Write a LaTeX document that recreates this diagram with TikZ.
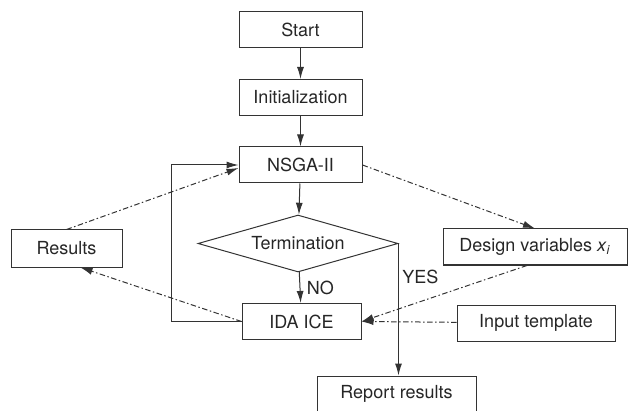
\documentclass[tikz,border=0pt]{standalone}
\usepackage{fontspec}
\setmainfont{TeX Gyre Heros}
\usetikzlibrary{shapes.geometric, arrows.meta}

\begin{document}
\begin{tikzpicture}[x=1pt, y=-1pt, line width=1pt, draw=black!80, >={Latex[length=12pt, width=7pt]},
    every node/.style={font=\fontsize{18}{20}\selectfont, text=black!85},
    flowbox/.style={draw, rectangle, minimum width=123pt, minimum height=36pt, inner sep=0pt},
    dashdot/.style={dash pattern=on 5.5pt off 2.5pt on 1.5pt off 2.5pt}]
      \useasboundingbox (0,0) rectangle (628,411);
      \node [flowbox] (start) at (300.5,29.5) {Start};
      \node [flowbox] (init) at (300.5,97.5) {Initialization};
      \node [flowbox] (nsga) at (300.5,165) {NSGA-II};
      \node [draw, diamond, aspect=3.5, inner sep=0pt, minimum width=200pt, minimum height=57pt] (term) at (298,243.5) {Termination};
      \node [flowbox, minimum width=119pt] (ida) at (301.5,321.5) {IDA ICE};
      \node [flowbox, minimum width=159pt, minimum height=35pt] (report) at (396.5,393.5) {Report results};
      \begin{scope}[every node/.append style={flowbox}]
        \node [minimum width=111pt, minimum height=37pt] (res) at (66.5,248.5) {Results};
        \node [minimum width=184pt] (dv) at (535,247) {Design variables \textit{x}\textsubscript{\textit{i}}};
        \node [minimum width=158pt] (tmpl) at (536,323) {Input template};
      \end{scope}

      \draw[->] (start) -- (init);
      \draw[->] (init) -- (nsga);
      \draw[->] (nsga) -- (term);
      \draw[->] (term) -- node[right=3pt] {NO} (ida);
      \draw[->] (term.east) -- node[pos=0.25, right] {YES} (term.east |- report.north);
      \draw[->] (ida.west) -- ++(-70,0) |- (nsga.west);

      \draw[->, dashdot] (nsga.east) -- (dv.north);
      \draw[->, dashdot] ([xshift=-8pt]dv.south) -- (ida.east);
      \draw[->, dashdot] (tmpl) -- (ida.east);
      \draw[->, dashdot] (ida.west) -- ([xshift=14pt]res.south);
      \draw[->, dashdot] (res.north) -- ([yshift=-3pt]nsga.west);
    \end{tikzpicture}
\end{document}
